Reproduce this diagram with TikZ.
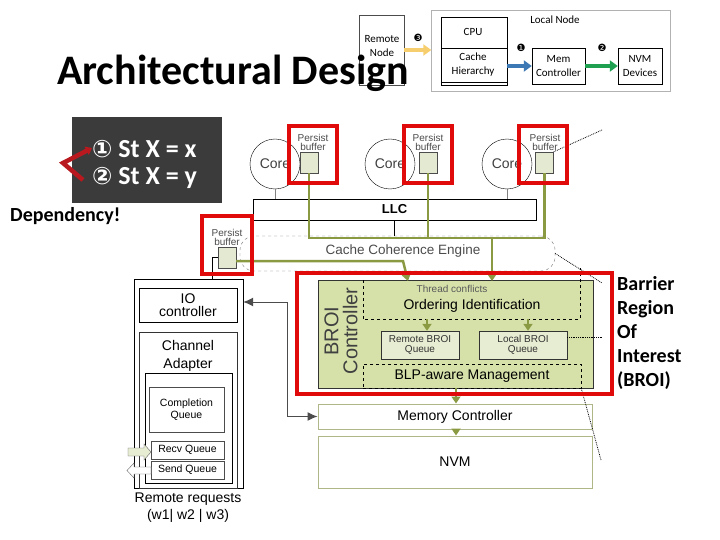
\documentclass[tikz,border=0pt]{standalone}
\usepackage{fontspec}
\setmainfont{Liberation Sans}
\newfontfamily\calfont{Carlito}
\newfontfamily\dvfont{DejaVu Sans}
\usetikzlibrary{arrows.meta}
\newcommand\fsz[2]{\fontsize{#1}{#2}\selectfont}
\definecolor{gln}{RGB}{138,154,66}
\definecolor{broifill}{RGB}{214,225,170}
\definecolor{qfill}{RGB}{231,237,210}
\definecolor{pbfill}{RGB}{228,234,210}
\definecolor{redbox}{RGB}{225,10,10}
\definecolor{darkbox}{RGB}{59,59,59}
\definecolor{mcline}{RGB}{175,182,135}
\definecolor{chev}{RGB}{185,25,30}
\definecolor{yarrc}{RGB}{247,206,110}
\definecolor{barrc}{RGB}{60,120,180}
\definecolor{garrc}{RGB}{30,160,80}
\begin{document}
\begin{tikzpicture}[x=1pt,y=-1pt,
  box/.style={draw, inner sep=0pt, align=center},
  rbox/.style={draw=redbox, line width=4pt, inner sep=0pt},
  gline/.style={draw=gln, line width=2.5pt},
  garrow/.style={draw=gln, line width=2.5pt, -{Triangle[width=9pt,length=7pt]}},
  inarrow/.style={line width=4pt, -{Triangle[width=11pt,length=8pt]}},
  insettext/.style={font=\calfont\fsz{11}{14}, align=center, inner sep=0pt},
  pbox/.style={draw=black!70, fill=pbfill, minimum width=18pt, minimum height=21pt, inner sep=0pt},
  pbtext/.style={font=\fsz{10}{9}, align=center, text=black!70, inner sep=0pt},
  coretext/.style={circle, draw, minimum size=50pt, inner sep=0pt, font=\fsz{14}{16}, text=black!75},
  zoomline/.style={densely dotted, line width=0.8pt},
  qbox/.style={draw=black!80, fill=qfill, minimum height=28pt, inner sep=0pt, align=center, font=\fsz{10}{10}, text=black!80},
  colbox/.style={draw, inner sep=0pt, align=center},
  stline/.style={anchor=base west, text=white, font=\calfont\bfseries\fsz{26}{28}, inner sep=0pt}
]
\path[fill=white] (0,0) rectangle (720,540);
\useasboundingbox (0,0) rectangle (720,540);

% ---------- inset ----------
\node[draw=black!30, minimum width=239pt, minimum height=81pt, inner sep=0pt] (local) at (551,50.5) {};
\node[insettext] (localt) at (555,20) {Local Node};
\node[box, minimum width=66pt, minimum height=68pt] (cpu) at (474,51) {};
\coordinate (cpudiv) at (474,48);
\coordinate (cpubot) at (474,82);
\draw (cpu.west |- cpudiv) -- (cpu.east |- cpudiv);
\draw (cpu.west |- cpubot) -- (cpu.east |- cpubot);
\node[insettext] (cput) at (473,32) {CPU};
\node[insettext] (cacht) at (473,65) {Cache\\Hierarchy};
\node[box, minimum width=53pt, minimum height=36pt, insettext, draw] (mem) at (558.5,66) {Mem\\Controller};
\node[box, minimum width=44pt, minimum height=36pt, insettext, draw] (nvmd) at (640,66) {NVM\\Devices};
\node[draw=black!70, minimum width=45pt, minimum height=70pt, inner sep=0pt] (remote) at (381.5,50) {};
\node[insettext] (remotet) at (382,46.5) {Remote\\Node};
\draw[inarrow, yarrc] (remote.east) -- (remote.east -| local.west);
\draw[inarrow, barrc] (cpu.east |- mem.west) -- (mem.west);
\draw[inarrow, garrc] (mem.east) -- (nvmd.west);
\node[font=\dvfont\fsz{10}{12}, inner sep=0pt] (n3) at (418,38) {❸};
\node[font=\dvfont\fsz{10}{12}, inner sep=0pt] (n1) at (521,48) {❶};
\node[font=\dvfont\fsz{10}{12}, inner sep=0pt] (n2) at (602,48) {❷};

% ---------- title ----------
\node[anchor=base west, font=\calfont\bfseries\fsz{42}{46}, inner sep=0pt] (title) at (57,85) {Architectural Design};

% ---------- dependency box ----------
\node[fill=darkbox, minimum width=150pt, minimum height=86pt, inner sep=0pt] (dbox) at (147,160) {};
\node[stline] (s1) at (92,158) {{\dvfont\fsz{24}{28}①} St X = x};
\node[stline] (s2) at (92,185) {{\dvfont\fsz{24}{28}②} St X = y};
\coordinate (chv) at (63,163);
\coordinate (chtop) at (92,148);
\coordinate (chbot) at (83,180);
\draw[chev, line width=4.5pt, -{Triangle[width=9pt,length=6pt]}] (chbot) -- (chv) -- (chtop);
\node[anchor=west, font=\calfont\bfseries\fsz{20}{24}, inner sep=0pt] (dep) at (10,216) {Dependency!};

% ---------- right text ----------
\node[anchor=north west, font=\calfont\bfseries\fsz{20}{24}, align=left, inner sep=0pt] (broit) at (617,276) {Barrier\\Region\\Of\\Interest\\(BROI)};

% ---------- cache coherence engine ----------
\node[draw=black!55, dashed, rounded corners=14pt, minimum width=315pt, minimum height=35pt, inner sep=0pt] (cce) at (397.5,253.5) {};
\node[font=\fsz{13.5}{16}, text=black!70, inner sep=0pt] (ccet) at (403,251) {Cache Coherence Engine};

% ---------- cores ----------
\node[coretext] (c1) at (275,164) {Core};
\node[coretext] (c2) at (390,164) {Core};
\node[coretext] (c3) at (507,164) {Core};
\node[draw, minimum width=283pt, minimum height=21pt, inner sep=0pt, font=\bfseries\fsz{13}{15}] (llc) at (394.5,209.5) {LLC};
\draw[black!50] (c1.south) -- (c1.south |- llc.north);
\draw[black!50] (c3.south) -- (c3.south |- llc.north);
\draw (llc.south) -- (llc.south |- cce.north);

\node[pbox] (pb1) at (309,162.5) {};
\node[pbox] (pb2) at (428,162.5) {};
\node[pbox] (pb3) at (544.5,162.5) {};
\node[pbox] (pb0) at (227,257.5) {};
\node[pbtext] (pbt1) at (313,142) {Persist\\buffer};
\node[pbtext] (pbt2) at (428,142) {Persist\\buffer};
\node[pbtext] (pbt3) at (545,142) {Persist\\buffer};
\node[pbtext] (pbt0) at (227,237.5) {Persist\\buffer};

% ---------- BROI controller ----------
\node[draw=black!80, fill=broifill, minimum width=275pt, minimum height=108pt, inner sep=0pt] (ctrl) at (455.5,334) {};
\node[rotate=90, font=\fsz{20}{19}, align=center, text=black!75, inner sep=0pt] (ctrlt) at (341,331) {BROI\\Controller};
\node[minimum width=217pt, minimum height=39pt, inner sep=0pt] (ordid) at (471.5,299.5) {};
\draw[dashed] (ordid.north west) -- (ordid.south west) -- (ordid.south east) -- (ordid.north east) -- ++(0,-12);
\node[font=\fsz{14}{16}, inner sep=0pt] (ordt) at (472,306) {Ordering Identification};
\node[font=\fsz{10}{12}, text=black!65, inner sep=0pt] (thr) at (452,289) {Thread conflicts};
\node[qbox, minimum width=78pt] (rq) at (420,345) {Remote BROI\\Queue};
\node[qbox, minimum width=88pt] (lq) at (523,345) {Local BROI\\Queue};
\node[draw, dashed, minimum width=218pt, minimum height=24pt, inner sep=0pt, font=\fsz{14}{16}] (blp) at (472,376) {BLP-aware Management};
\coordinate (qx1) at (427,325);
\coordinate (qx2) at (528,325);
\draw[garrow] (qx1 |- ordid.south) -- (qx1 |- rq.north);
\draw[garrow] (qx2 |- ordid.south) -- (qx2 |- lq.north);

% ---------- memory ----------
\node[draw=mcline, line width=1pt, minimum width=274pt, minimum height=25pt, inner sep=0pt, font=\fsz{14}{16}] (mc) at (455,416.5) {Memory Controller};
\node[draw=mcline, line width=1pt, minimum width=274pt, minimum height=52pt, inner sep=0pt, font=\fsz{14}{16}] (nvm) at (455,462) {NVM};
\coordinate (mx) at (456,400);
\draw[garrow] (mx |- ctrl.south) -- (mx |- mc.north);
\draw[garrow] (mx |- mc.south) -- (mx |- nvm.north);

% ---------- green persist paths ----------
\coordinate (gb) at (492,238);
\coordinate (in2) at (492,281);
\coordinate (g1) at (403,261);
\coordinate (in1) at (408,281);
\draw[gline] (pb1.south) |- (gb -| pb3.south) -- (pb3.south);
\draw[gline] (pb2.south) -- (pb2.south |- gb);
\draw[garrow] (gb) -- (in2);
\draw[garrow] (pb0.east |- g1) -- (g1) -- (in1);

% ---------- left column ----------
\node[colbox, minimum width=109pt, minimum height=209pt] (outer) at (188.5,383.5) {};
\node[colbox, minimum width=98pt, minimum height=34pt, font=\fsz{14}{13}] (io) at (188,305) {IO\\controller};
\node[colbox, draw=black!80, minimum width=98pt, minimum height=156pt] (chan) at (188,410) {};
\node[font=\fsz{14}{18}, align=center, inner sep=0pt] (chant) at (188,356) {Channel\\Adapter};
\node[colbox, minimum width=87pt, minimum height=110pt] (inner) at (188.5,428) {};
\node[colbox, draw=black!70, minimum width=75pt, minimum height=45pt, font=\fsz{10.5}{12}] (comp) at (186.5,409.5) {Completion\\Queue};
\node[colbox, draw=black!70, minimum width=73pt, minimum height=18pt, font=\fsz{10.5}{12}] (recv) at (187.5,450) {Recv Queue};
\node[colbox, draw=black!70, minimum width=73pt, minimum height=18pt, font=\fsz{10.5}{12}] (send) at (187.5,470) {Send Queue};
\draw[draw=black!60, fill=qfill] (128,448) -- (144,448) -- (144,444) -- (151,452) -- (144,460) -- (144,456) -- (128,456) -- cycle;
\draw[draw=black!60, fill=white] (151,467) -- (134,467) -- (134,463) -- (127,470.5) -- (134,478) -- (134,474) -- (151,474) -- cycle;
\node[font=\fsz{14}{17}, align=center, inner sep=0pt] (rr) at (188,508) {Remote requests\\(w1| w2 | w3)};
\coordinate (kk) at (212,257.5);
\draw (pb0.west) -- (kk) -- (kk |- outer.north);
\coordinate (jn) at (287,302);
\draw[black!70, line width=1pt, {Latex[length=10pt,width=9pt]}-{Latex[length=10pt,width=9pt]}] (jn -| outer.east) -- (jn) |- (mc.west);

% ---------- zoom lines ----------
\coordinate (dt1) at (602,130);
\coordinate (dt2) at (602,283);
\coordinate (dt3) at (602,337);
\coordinate (dt4) at (601,460);
\draw[zoomline] (pb3.north east) -- (dt1);
\draw[zoomline] (cce.east) -- (dt2);
\draw[zoomline] (dt3 -| lq.east) -- (dt3);
\draw[zoomline] (blp.south east) -- (dt4);

% ---------- red boxes ----------
\node[rbox, minimum width=48pt, minimum height=57pt] (red1) at (313,154.5) {};
\node[rbox, minimum width=48pt, minimum height=57pt] (red2) at (428,154.5) {};
\node[rbox, minimum width=48pt, minimum height=57pt] (red3) at (543,154.5) {};
\node[rbox, minimum width=50pt, minimum height=58pt] (red0) at (227,245) {};
\node[rbox, minimum width=315pt, minimum height=121pt] (redb) at (454.5,333.5) {};
\end{tikzpicture}
\end{document}
